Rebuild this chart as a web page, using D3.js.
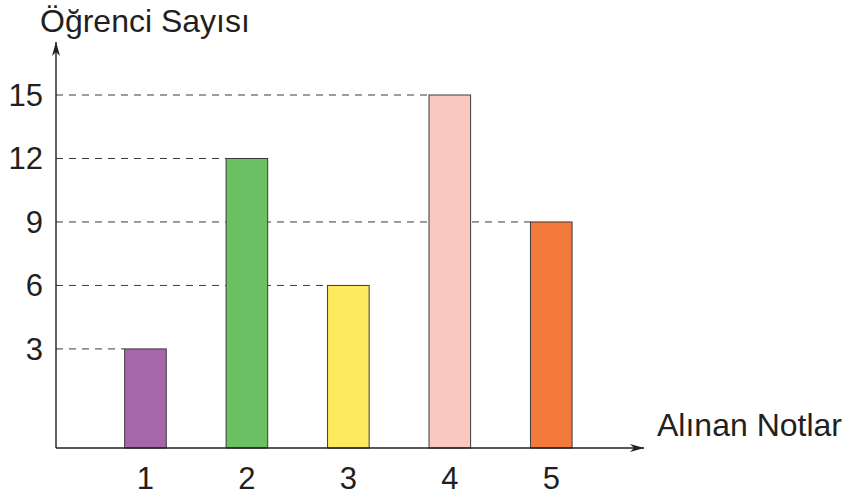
<!DOCTYPE html>
<html>
<head>
<meta charset="utf-8">
<script src="https://cdn.jsdelivr.net/npm/d3@7"></script>
<style>
  body { margin: 0; background: #fff; }
  svg text { font-family: "Liberation Sans", Arial, sans-serif; fill: #231f20; }
</style>
</head>
<body>
<svg id="chart"></svg>
<script>
// data
const notes = ["1", "2", "3", "4", "5"];
const counts = [3, 12, 6, 15, 9];
const colors = ["#a866aa", "#6bc063", "#fdea5e", "#f8c8c1", "#f47a3c"];
const yTicks = [3, 6, 9, 12, 15];
const yTitle = "Öğrenci Sayısı";
const xTitle = "Alınan Notlar";

const width = 849, height = 500;
const axisX = 56, axisY = 448;

const svg = d3.select("#chart")
  .attr("width", width)
  .attr("height", height);

// arrow heads
const defs = svg.append("defs");
defs.append("marker")
  .attr("id", "arrow")
  .attr("viewBox", "0 0 14 10")
  .attr("refX", 14)
  .attr("refY", 5)
  .attr("markerWidth", 14)
  .attr("markerHeight", 10)
  .attr("markerUnits", "userSpaceOnUse")
  .attr("orient", "auto")
  .append("path")
  .attr("d", "M0,1 L14,5 L0,9 L4,5 Z")
  .attr("fill", "#231f20");

const x = d3.scaleBand()
  .domain(notes)
  .range([94.2, 602.5])
  .paddingInner(0.59)
  .paddingOuter(0.3);

// the drawing puts the 3-unit steps above a raised zero
const y = d3.scaleLinear()
  .domain([0, 15])
  .range([412.4, 95]);

const data = notes.map((n, i) => ({note: n, count: counts[i], color: colors[i]}));

// dashed guide lines from the y axis to the first bar that reaches that value
const guides = yTicks.map(t => {
  const d = data.find(b => b.count === t);
  return {value: t, x2: d ? x(d.note) : axisX};
});

svg.append("g")
  .selectAll("line")
  .data(guides)
  .join("line")
  .attr("x1", axisX)
  .attr("x2", d => d.x2)
  .attr("y1", d => y(d.value))
  .attr("y2", d => y(d.value))
  .attr("stroke", "#3a3a3a")
  .attr("stroke-width", 1)
  .attr("stroke-dasharray", "7,6");

svg.append("g")
  .selectAll("rect")
  .data(data)
  .join("rect")
  .attr("x", d => x(d.note))
  .attr("y", d => y(d.count))
  .attr("width", x.bandwidth())
  .attr("height", d => axisY - y(d.count))
  .attr("fill", d => d.color)
  .attr("stroke", "#3a3a3a")
  .attr("stroke-width", 1);

// axes
svg.append("line")
  .attr("x1", axisX).attr("y1", axisY)
  .attr("x2", axisX).attr("y2", 42)
  .attr("stroke", "#231f20")
  .attr("stroke-width", 1.4)
  .attr("marker-end", "url(#arrow)");

svg.append("line")
  .attr("x1", axisX).attr("y1", axisY)
  .attr("x2", 644).attr("y2", axisY)
  .attr("stroke", "#231f20")
  .attr("stroke-width", 1.4)
  .attr("marker-end", "url(#arrow)");

// tick labels
svg.append("g")
  .selectAll("text")
  .data(yTicks)
  .join("text")
  .attr("x", 43)
  .attr("y", d => y(d))
  .attr("dy", "0.35em")
  .attr("text-anchor", "end")
  .attr("font-size", 31)
  .text(d => d);

svg.append("g")
  .selectAll("text")
  .data(notes)
  .join("text")
  .attr("x", d => x(d) + x.bandwidth() / 2)
  .attr("y", 489)
  .attr("text-anchor", "middle")
  .attr("font-size", 31)
  .text(d => d);

svg.append("text")
  .attr("x", 40)
  .attr("y", 32)
  .attr("font-size", 32)
  .text(yTitle);

svg.append("text")
  .attr("x", 657)
  .attr("y", 436)
  .attr("font-size", 32)
  .text(xTitle);
</script>
</body>
</html>
